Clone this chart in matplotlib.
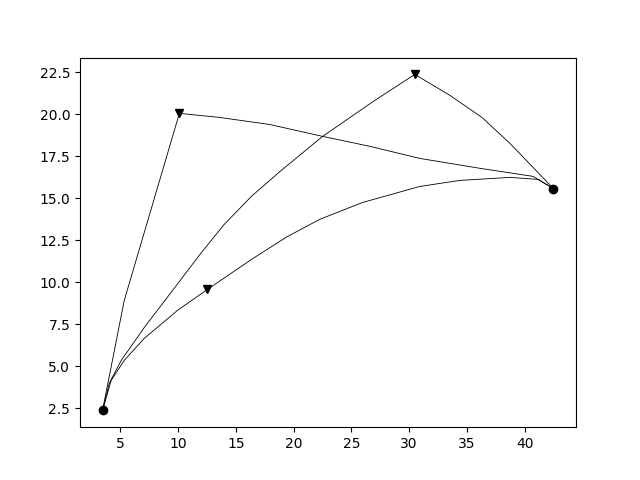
import matplotlib
matplotlib.use("Agg")
import matplotlib.pyplot as plt

# end points (circles) and the three middle points (triangles)
ends_x = [3.47, 42.50]
ends_y = [2.38, 15.58]
mid_x = [10.12, 30.50, 12.55]
mid_y = [20.06, 22.38, 9.58]

# curve through the first triangle
a_x = [3.47, 5.35, 10.12, 13.59, 17.93, 22.52, 26.60, 30.93, 36.14, 40.73, 42.50]
a_y = [2.38, 8.93, 20.06, 19.82, 19.40, 18.69, 18.10, 17.38, 16.79, 16.31, 15.58]

# curve through the top triangle
b_x = [3.47, 4.05, 5.09, 7.09, 9.95, 12.00, 14.00, 16.40, 19.00, 22.52, 27.03, 30.50, 33.54, 36.31, 38.74, 42.50]
b_y = [2.38, 3.99, 5.36, 7.32, 9.90, 11.75, 13.45, 15.15, 16.70, 18.69, 20.83, 22.38, 21.13, 19.82, 18.27, 15.58]

# curve through the low triangle
c_x = [3.47, 4.22, 5.35, 7.09, 9.95, 12.55, 16.37, 19.40, 22.26, 25.99, 30.93, 34.40, 38.74, 41.17, 42.50]
c_y = [2.38, 4.17, 5.36, 6.67, 8.33, 9.58, 11.37, 12.70, 13.75, 14.76, 15.71, 16.07, 16.25, 16.13, 15.58]

fig, ax = plt.subplots(figsize=(6.4, 4.8), dpi=100)

for xs, ys in [(a_x, a_y), (b_x, b_y), (c_x, c_y)]:
    ax.plot(xs, ys, color='black', linewidth=0.6)

ax.plot(ends_x, ends_y, 'o', color='black', markersize=6)
ax.plot(mid_x, mid_y, 'v', color='black', markersize=6)

fig.savefig('out.png', dpi=100)
